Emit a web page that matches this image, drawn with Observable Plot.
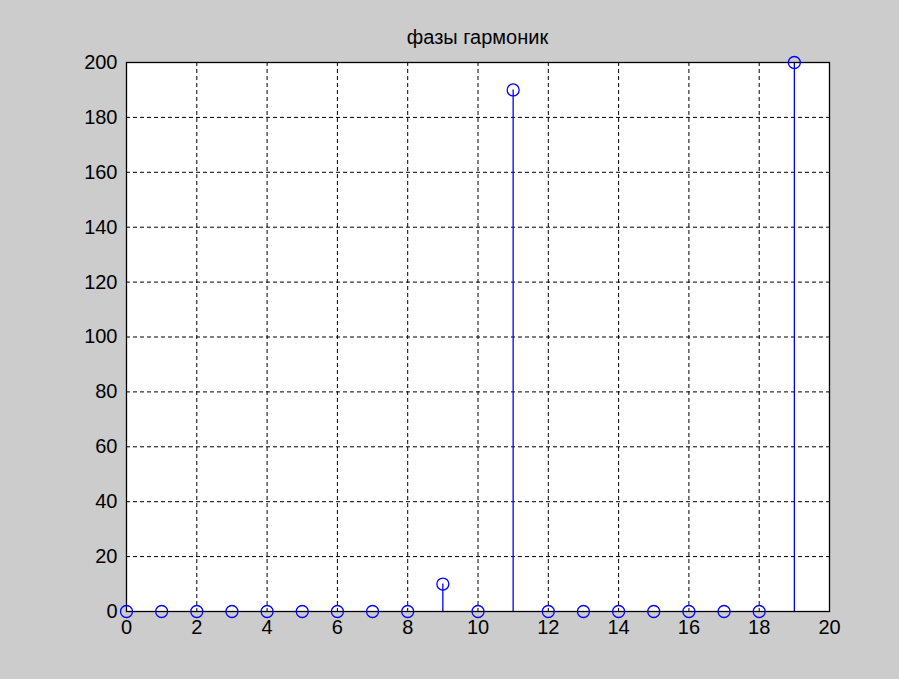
<!DOCTYPE html>
<html>
<head>
<meta charset="utf-8">
<script src="https://cdn.jsdelivr.net/npm/d3@7"></script>
<script src="https://cdn.jsdelivr.net/npm/@observablehq/plot@0.6"></script>
<style>
  html, body { margin: 0; padding: 0; background: #cccccc; }
  #wrap { position: relative; width: 899px; height: 679px; background: #cccccc; overflow: hidden; }
  #title { position: absolute; left: 126px; width: 703px; top: 0; height: 50px; text-align: center;
           font-family: "Liberation Sans", Arial, sans-serif; font-size: 20px; line-height: 20px; padding-top: 27px; box-sizing: border-box; color: #000; }
  #chart { position: absolute; left: 0; top: 50px; }
</style>
</head>
<body>
<div id="wrap">
  <div id="title">фазы гармоник</div>
  <div id="chart"></div>
</div>
<script>
const title = "фазы гармоник";
const harmonics = [0,1,2,3,4,5,6,7,8,9,10,11,12,13,14,15,16,17,18,19];
const phases    = [0,0,0,0,0,0,0,0,0,10,0,190,0,0,0,0,0,0,0,200];
const xTicks = [0,2,4,6,8,10,12,14,16,18,20];
const yTicks = [0,20,40,60,80,100,120,140,160,180,200];

const data = harmonics.map((h, i) => ({h, v: phases[i]}));
const gridX = xTicks.slice(1, -1);
const gridY = yTicks.slice(1, -1);

const chart = Plot.plot({
  width: 899,
  height: 629,
  marginLeft: 126,
  marginRight: 70,
  marginTop: 12,
  marginBottom: 68,
  style: { background: "transparent", fontFamily: "'Liberation Sans', Arial, sans-serif", fontSize: "20px", color: "#000" },
  x: { domain: [0, 20], ticks: xTicks, tickSize: 0, tickPadding: 8, label: null, tickFormat: d => String(d) },
  y: { domain: [0, 200], ticks: yTicks, tickSize: 0, tickPadding: 9, label: null, tickFormat: d => String(d) },
  marks: [
    Plot.frame({ fill: "white", stroke: null }),
    Plot.ruleX(gridX, { stroke: "#000", strokeWidth: 1, strokeDasharray: "4,3", strokeOpacity: 1 }),
    Plot.ruleY(gridY, { stroke: "#000", strokeWidth: 1, strokeDasharray: "4,3", strokeOpacity: 1 }),
    Plot.ruleX(data.filter(d => d.v !== 0), { x: "h", y1: 0, y2: "v", stroke: "#0000ff", strokeWidth: 1.3 }),
    Plot.frame({ stroke: "#000", strokeWidth: 1.3, strokeOpacity: 1 }),
    Plot.dot(data, { x: "h", y: "v", r: 6, stroke: "#0000ff", strokeWidth: 1.3, fill: "none" })
  ]
});
document.getElementById("chart").appendChild(chart);
</script>
</body>
</html>
